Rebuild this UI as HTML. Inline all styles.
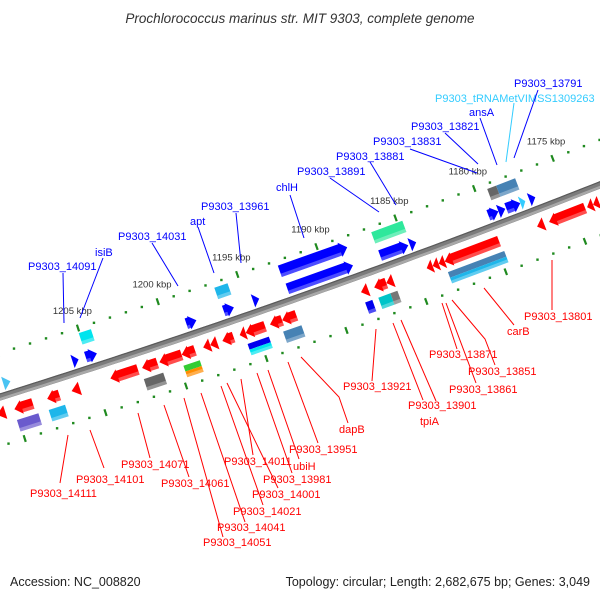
<!DOCTYPE html>
<html><head><meta charset="utf-8"><style>
html,body{margin:0;padding:0;background:#fff;width:600px;height:600px;overflow:hidden}
svg{display:block;font-family:"Liberation Sans",sans-serif}
</style></head><body>
<svg id="chart" width="600" height="600" viewBox="0 0 600 600">
<text x="300" y="23" text-anchor="middle" font-style="italic" font-size="13.5" fill="#333">Prochlorococcus marinus str. MIT 9303, complete genome</text>
<text x="10" y="586" font-size="12.5" fill="#222">Accession: NC_008820</text>
<text x="590" y="586" text-anchor="end" font-size="12.5" fill="#222">Topology: circular; Length: 2,682,675 bp; Genes: 3,049</text>
<g id="ticks"></g><g id="backbone"></g><g id="feats"></g><g id="labels"></g>
</svg>
<script>
// ---- data ----
const tickKbp=[1168,1169,1170,1171,1172,1173,1174,1175,1176,1177,1178,1179,1180,1181,1182,1183,1184,1185,1186,1187,1188,1189,1190,1191,1192,1193,1194,1195,1196,1197,1198,1199,1200,1201,1202,1203,1204,1205,1206,1207,1208,1209,1210,1211,1212];
const tickLabelKbp=[1175,1180,1185,1190,1195,1200,1205];
const featStart=[1210.23,1205.92,1205.10,1198.81,1196.47,1194.63,1192.47,1186.63,1184.75,1179.78,1179.14,1178.64,1177.75,1177.18,
 1205.05,1196.55,1192.55,1186.65,1179.29,1178.72,
 1211.14,1210.06,1208.03,1206.51,1204.10,1202.13,1201.05,1199.66,1198.32,1197.88,1197.12,1196.04,1195.66,1194.14,1193.38,1188.43,1187.60,1186.84,1184.30,1183.92,1183.54,1183.16,1177.32,1176.56,1174.15,1173.77,
 1210.11,1208.14,1202.24,1199.77,1195.77,1193.55,1188.41,1187.58,1186.82,1183.20];
const featEnd=[1209.79,1205.54,1204.40,1198.18,1195.83,1194.24,1188.34,1184.85,1184.35,1179.14,1178.70,1177.75,1177.43,1176.80,
 1204.29,1195.72,1188.30,1184.68,1178.72,1177.51,
 1210.63,1208.92,1207.27,1206.00,1202.39,1201.18,1199.66,1198.83,1197.88,1197.44,1196.42,1195.66,1194.45,1193.38,1192.49,1187.98,1186.84,1186.40,1183.92,1183.54,1183.16,1179.73,1176.88,1174.28,1173.77,1173.39,
 1208.78,1207.13,1201.03,1198.75,1194.44,1192.40,1187.96,1186.82,1186.38,1179.65];
const featRow=[0,0,0,0,0,0,0,0,0,0,0,0,0,0, 1,1,1,1,1,1,
 2,2,2,2,2,2,2,2,2,2,2,2,2,2,2,2,2,2,2,2,2,2,2,2,2,2,
 3,3,3,3,3,3,3,3,3,3];
const featShape=['r','r','R','R','R','r','R','R','r','R','r','R','r','r', 'B','B','R','B','B','B',
 'l','L','L','l','L','L','L','L','l','l','L','l','L','L','L','l','L','l','l','l','l','L','l','L','l','l',
 'B','B','B','S','S','B','B','B','B','S'];
const featColor=['#49c3f2','#0000ff','#0000ff','#0000ff','#0000ff','#0000ff','#0000ff','#0000ff','#0000ff','#0000ff','#0000ff','#0000ff','#33ccff','#0000ff',
 '#00e4ee','#1eb6ea','#0000ff','#2ee89c','#666666','#4682b4',
 'red','red','red','red','red','red','red','red','red','red','red','red','red','red','red','red','red','red','red','red','red','red','red','red','red','red',
 '#6a5acd','#1eb6ea','#666666','#33cc33','#0000ee','#4682b4','#0000ee','#00c4c8','#777777','#4682b4'];
const featColor2=['','','','','','','','','','','','','','', '','','','','','',
 '','','','','','','','','','','','','','','','','','','','','','','','','','',
 '','','','#ff8c00','#00e4ee','','','','','#1eb6ea'];
// ---- geometry ----
const CX=-2651, CY=-8056, R=8859, PHI0=69.24, K0=1180, DPHI=0.1092;
const ROWD=[-12,-31,16,33], ROWH=[11,12,11,12];
const NS='http://www.w3.org/2000/svg';
function pt(k,d){const a=(PHI0+(k-K0)*DPHI)*Math.PI/180;return [CX+(R+d)*Math.cos(a),CY+(R+d)*Math.sin(a)];}
function P(list){return list.map(p=>{const q=pt(p[0],p[1]);return q[0].toFixed(1)+','+q[1].toFixed(1);}).join(' ');}
function mk(tag,attrs,parent){const e=document.createElementNS(NS,tag);for(const a in attrs)e.setAttribute(a,attrs[a]);parent.appendChild(e);return e;}
// backbone
const bb=document.getElementById('backbone');
function arcPath(d){let s='';for(let k=1216;k>=1166;k-=0.5){const q=pt(k,d);s+=(s?'L':'M')+q[0].toFixed(1)+' '+q[1].toFixed(1);}return s;}
let b1=mk('path',{d:arcPath(0),stroke:'#7c7c7c','stroke-width':7,fill:'none'},bb);


let b2=mk('path',{d:arcPath(2),stroke:'#a8a8a8','stroke-width':2.5,fill:'none'},bb);


let b3=mk('path',{d:arcPath(-3),stroke:'#5a5a5a','stroke-width':1.2,fill:'none'},bb);


// ticks
const tg=document.getElementById('ticks');
[-42,47].forEach(d=>{
 tickKbp.forEach(k=>{
  if(k%5===0){const a=pt(k,d-3.5),b=pt(k,d+3.5);
   const t=mk('line',{x1:a[0],y1:a[1],x2:b[0],y2:b[1],stroke:'#1f8a1f','stroke-width':2.2},tg);
   
   
  } else {const q=pt(k,d);
   const t=mk('rect',{x:q[0]-1.2,y:q[1]-1.2,width:2.4,height:2.4,fill:'#1f8a1f'},tg);
   
   }
 });
});
tickLabelKbp.forEach(k=>{const q=pt(k,-60);
 const t=mk('text',{x:q[0],y:q[1]+3,'text-anchor':'middle','font-size':9.5,fill:'#333'},tg);
 t.textContent=k+' kbp';
 
 });
// features
const fg=document.getElementById('feats');
for(let i=0;i<featStart.length;i++){
 const kH=featStart[i],kL=featEnd[i],d=ROWD[featRow[i]],h=ROWH[featRow[i]]/2,sh=featShape[i],len=kH-kL;
 const g=mk('g',{},fg);
 
 
 let pts;
 if(sh==='B'||sh==='S'){
  pts=[[kH,d-h],[kL,d-h],[kL,d+h],[kH,d+h]];
  if(sh==='S'){
   mk('polygon',{points:P([[kH,d-h],[kL,d-h],[kL,d],[kH,d]]),fill:featColor[i]},g);
   mk('polygon',{points:P([[kH,d],[kL,d],[kL,d+h],[kH,d+h]]),fill:featColor2[i]},g);
   mk('polygon',{points:P([[kH,d+h-3],[kL,d+h-3],[kL,d+h],[kH,d+h]]),fill:'#fff','fill-opacity':0.3},g);
   continue;
  }
 } else {
  const right=(sh==='R'||sh==='r');
  const hl=(sh==='r'||sh==='l')?len:Math.min(0.45,len);
  if(right){
   pts=[[kH,d-h],[kL+hl,d-h],[kL+hl,d-h-1.5],[kL,d],[kL+hl,d+h+1.5],[kL+hl,d+h],[kH,d+h]];
  } else {
   pts=[[kL,d-h],[kH-hl,d-h],[kH-hl,d-h-1.5],[kH,d],[kH-hl,d+h+1.5],[kH-hl,d+h],[kL,d+h]];
  }
 }
 mk('polygon',{points:P(pts),fill:featColor[i]},g);
 if(sh==='B'||sh==='R'||sh==='L'){
  const hl=(sh==='B')?0:Math.min(0.45,len);
  const a=(sh==='L')?kH-hl:kH, b=(sh==='R')?kL+hl:kL;
  mk('polygon',{points:P([[a,d+h-3.5],[b,d+h-3.5],[b,d+h],[a,d+h]]),fill:'#fff','fill-opacity':0.3},g);
 }
}
// labels
const lg=document.getElementById('labels');
const blueLabels=[['P9303_14091',28,266,63,273,64,323],['isiB',95,252,103,258,80,318],['P9303_14031',118,236,152,243,178,286],
 ['apt',190,221,198,227,214,273],['P9303_13961',201,206,236,213,241,263],['chlH',276,187,290,195,304,238],
 ['P9303_13891',297,171,330,178,379,212],['P9303_13881',336,156,370,162,396,205],['P9303_13831',373,141,410,149,477,173],
 ['P9303_13821',411,126,445,133,478,164],['ansA',469,112,480,118,497,165],['P9303_tRNAMetVIMSS1309263',435,98,514,103,506,162],
 ['P9303_13791',514,83,538,90,514,158]];
blueLabels.forEach(L=>{
 const col=L[0].indexOf('tRNA')>=0?'#33ccff':'#0000ff';
 const ln=mk('line',{x1:L[3],y1:L[4],x2:L[5],y2:L[6],stroke:col,'stroke-width':1},lg);
 
 
 const t=mk('text',{x:L[1],y:L[2]+4,'font-size':11,fill:col},lg);t.textContent=L[0];
 
 
});
const redLabels=[['P9303_14111',30,493,[[68,435],[60,483]]],['P9303_14101',76,479,[[90,430],[104,468]]],
 ['P9303_14071',121,464,[[138,413],[150,458]]],['P9303_14061',161,483,[[164,405],[189,477]]],
 ['P9303_14051',203,542,[[184,398],[223,537]]],['P9303_14041',217,527,[[201,393],[245,522]]],
 ['P9303_14021',233,511,[[221,386],[263,505]]],['P9303_14001',252,494,[[227,383],[278,488]]],
 ['P9303_14011',224,461,[[241,379],[253,455]]],['P9303_13981',263,479,[[257,373],[292,473]]],
 ['ubiH',293,466,[[268,370],[299,459]]],['P9303_13951',289,449,[[288,362],[318,443]]],
 ['dapB',339,429,[[301,357],[339,397],[348,423]]],['P9303_13921',343,386,[[376,329],[372,381]]],
 ['P9303_13901',408,405,[[393,323],[423,400]]],['tpiA',420,421,[[401,320],[436,401]]],
 ['P9303_13871',429,354,[[442,303],[457,349]]],['P9303_13861',449,389,[[446,303],[476,383]]],
 ['P9303_13851',468,371,[[452,300],[485,339],[495,365]]],['carB',507,331,[[484,288],[514,325]]],
 ['P9303_13801',524,316,[[552,260],[552,310]]]];
redLabels.forEach(L=>{
 const ln=mk('polyline',{points:L[3].map(p=>p.join(',')).join(' '),stroke:'red','stroke-width':1,fill:'none'},lg);
 
 
 const t=mk('text',{x:L[1],y:L[2]+4,'font-size':11,fill:'red'},lg);t.textContent=L[0];
 
 
});
</script>
</body></html>
